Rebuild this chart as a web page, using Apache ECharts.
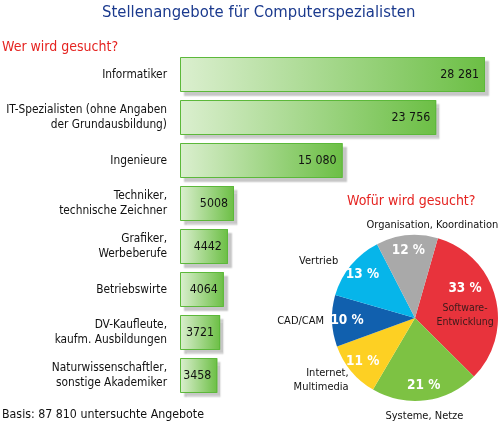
<!DOCTYPE html>
<html><head><meta charset="utf-8">
<script src="https://cdn.jsdelivr.net/npm/echarts@6/dist/echarts.min.js"></script>
<style>html,body{margin:0;padding:0;background:#fff}#c{width:500px;height:426px}</style>
</head><body><div id="c"></div>
<script>
const barCategories = ['Informatiker','IT-Spezialisten (ohne Angaben\nder Grundausbildung)','Ingenieure','Techniker,\ntechnische Zeichner','Grafiker,\nWerbeberufe','Betriebswirte','DV-Kaufleute,\nkaufm. Ausbildungen','Naturwissenschaftler,\nsonstige Akademiker'];
const barValues = [28281, 23756, 15080, 5008, 4442, 4064, 3721, 3458];
const pieNames = ['Software-\nEntwicklung','Systeme, Netze','Internet,\nMultimedia','CAD/CAM','Vertrieb','Organisation, Koordination'];
const pieValues = [33, 21, 11, 10, 13, 12];
const pieColors = ['#e8333c','#7dc243','#fdd023','#1160ae','#06b5ea','#a9a9a9'];

// label nudges for the pie's category names (layout only)
const pieNameNudge = [[7,-4],[-46,10],[7,5],[3,0],[-3,0],[97,-4]];

const FONT = "'DejaVu Sans Condensed','Liberation Sans Narrow',sans-serif";
function fmt(v){ return v >= 10000 ? String(v).replace(/\B(?=(\d{3})+(?!\d))/g,' ') : String(v); }

const chart = echarts.init(document.getElementById('c'));
chart.setOption({
  animation:false,
  textStyle:{fontFamily:FONT},
  title:[
    {text:'Stellenangebote für Computerspezialisten', left:97, top:-1,
     textStyle:{fontFamily:FONT, fontSize:16.5, fontWeight:'normal', color:'#1b3a8e'}},
    {text:'Wer wird gesucht?', left:-3, top:35,
     textStyle:{fontFamily:FONT, fontSize:14, fontWeight:'normal', color:'#e52421'}},
    {text:'Wofür wird gesucht?', left:342, top:189,
     textStyle:{fontFamily:FONT, fontSize:14, fontWeight:'normal', color:'#e52421'}},
    {text:'Basis: 87 810 untersuchte Angebote', left:-3, top:404,
     textStyle:{fontFamily:FONT, fontSize:12.3, fontWeight:'normal', color:'#111'}}
  ],
  grid:{left:180, right:15, top:53, bottom:29, containLabel:false, outerBoundsMode:'none'},
  xAxis:{type:'value', min:0, max:'dataMax', show:false},
  yAxis:{type:'category', inverse:true, data:barCategories,
    axisLine:{show:false}, axisTick:{show:false},
    axisLabel:{margin:13, fontSize:11.8, lineHeight:15, color:'#111', fontFamily:FONT}},
  series:[
    {type:'bar', data:barValues, barWidth:35, silent:true,
     itemStyle:{
       color:new echarts.graphic.LinearGradient(0,0,1,0,[{offset:0,color:'#dbefcf'},{offset:1,color:'#6cbf45'}]),
       borderWidth:0,
       shadowColor:'rgba(0,0,0,0.22)', shadowOffsetX:4, shadowOffsetY:4, shadowBlur:1.5}},
    {type:'bar', data:barValues, barWidth:35, barGap:'-100%', silent:true,
     itemStyle:{color:'rgba(0,0,0,0)', borderColor:'#5cb83a', borderWidth:1},
     label:{show:true, position:'insideRight', distance:6, fontSize:12.3, color:'#111', fontFamily:FONT,
       formatter:p=>fmt(p.value)}},
    {type:'pie', center:[415,318], radius:83, startAngle:74, clockwise:true, silent:true,
     avoidLabelOverlap:false,
     labelLayout:function(p){ const n = pieNameNudge[p.dataIndex]; return {dx:n[0], dy:n[1]}; },
     data:pieNames.map((n,i)=>({name:n, value:pieValues[i], itemStyle:{color:pieColors[i]},
       label: i===0 ? {position:'inside', align:'center',
         formatter:p=>'{p|'+p.value+' %}\n'+p.name.split('\n').map(s=>'{n|'+s+'}').join('\n'),
         rich:{p:{fontSize:13.5, fontWeight:'bold', color:'#fff', lineHeight:24, fontFamily:FONT},
               n:{fontSize:10.5, color:'#3b1b1b', lineHeight:14, fontFamily:FONT}}} :
         (i===2 ? {align:'center'} : undefined)})),
     label:{show:true, position:'outside', fontSize:11, lineHeight:14, color:'#111', fontFamily:FONT, formatter:'{b}'},
     labelLine:{show:false, length:6, length2:0}},
    {type:'pie', center:[415,318], radius:[46,84], startAngle:74, clockwise:true, silent:true,
     avoidLabelOverlap:false,
     data:pieNames.map((n,i)=>({name:n, value:pieValues[i], label: i===0 ? {show:false} : undefined})),
     itemStyle:{color:'rgba(0,0,0,0)'},
     label:{show:true, position:'inside', fontSize:13.5, fontWeight:'bold', color:'#fff', fontFamily:FONT,
       formatter:p=>p.value+' %'}}
  ]
});
</script></body></html>
